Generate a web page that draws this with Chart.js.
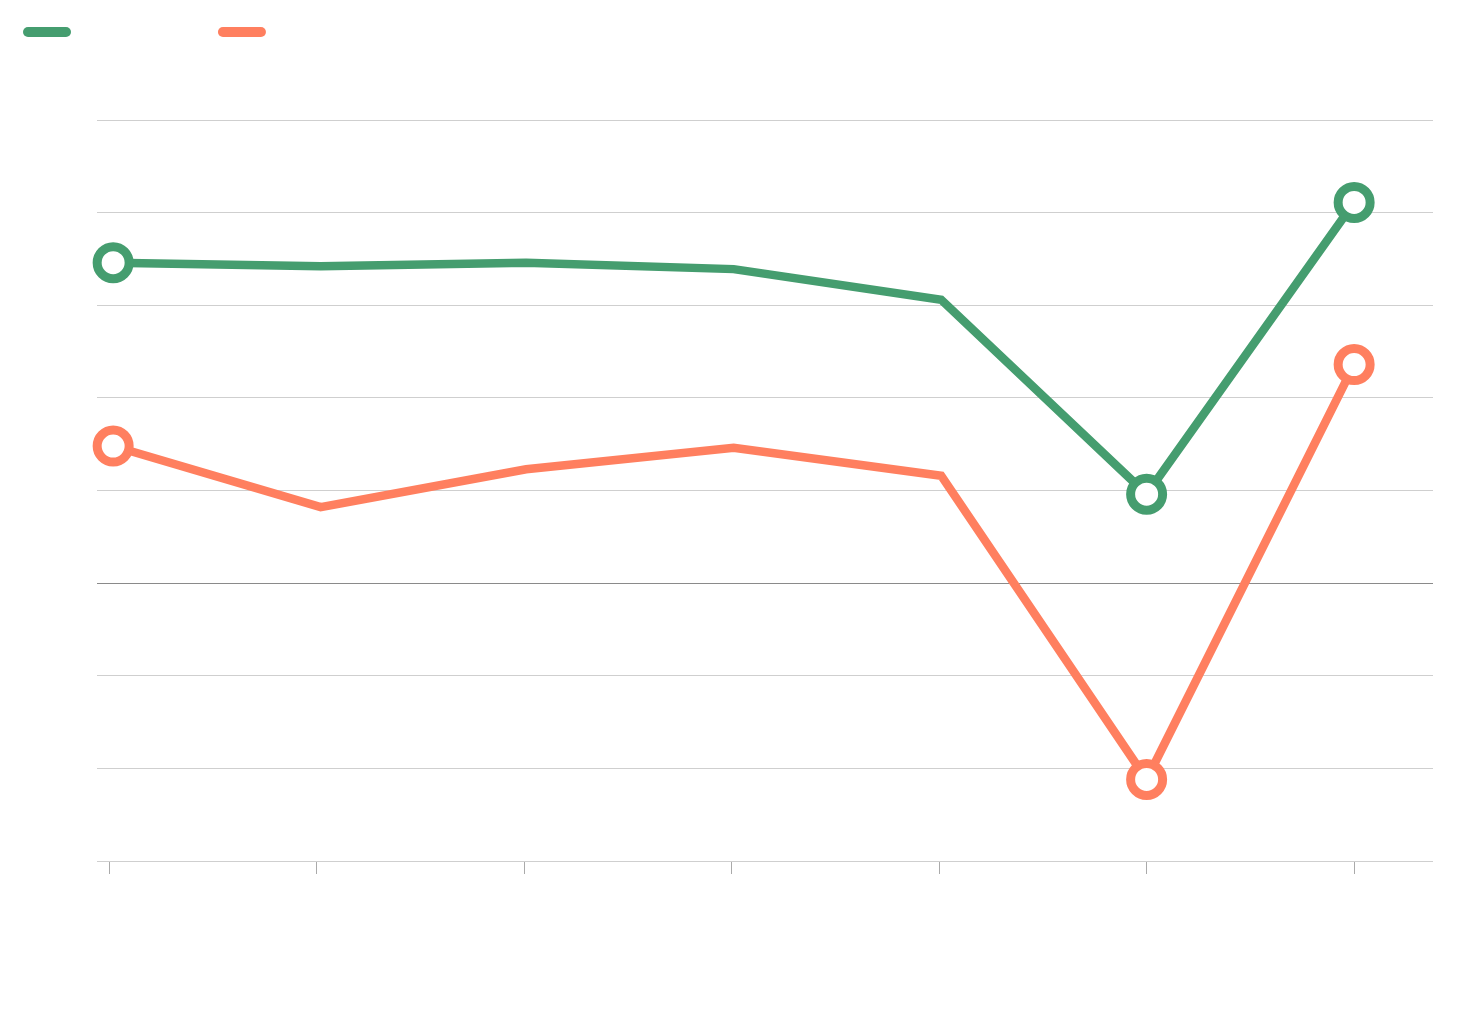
<!DOCTYPE html>
<html>
<head>
<meta charset="utf-8">
<script src="https://cdn.jsdelivr.net/npm/chart.js@4/dist/chart.umd.min.js"></script>
<style>
  html, body { margin: 0; padding: 0; background: #ffffff; }
  #wrap { position: relative; width: 1460px; height: 1018px; }
</style>
</head>
<body>
<div id="wrap"><canvas id="c"></canvas></div>
<script>
// ---- data ----
const seriesNames = ['Series 1', 'Series 2'];
const periods = [0.02, 1.02, 2.01, 3.01, 4.01, 5, 6];
const seriesGreen = [34.6, 34.2, 34.6, 33.9, 30.6, 9.6, 41.1];
const seriesOrange = [14.8, 8.2, 12.3, 14.6, 11.6, -21.2, 23.6];
const yTicks = [-30, -20, -10, 0, 10, 20, 30, 40, 50];
const xTicks = [0, 1, 2, 3, 4, 5, 6];

// ---- styling ----
const GREEN = '#459d6f';
const ORANGE = '#ff7f5f';
const FAMILY = "'Liberation Sans', Arial, sans-serif";

// legend metrics (text is invisible, only spacing matters)
const m = document.createElement('canvas').getContext('2d');
m.font = '100px ' + FAMILY;
const w1 = m.measureText(seriesNames[0]).width / 100;
const legendFont = 147 / (0.5 + w1);
const padTop = 22 - legendFont / 2;
const spacer = 120 - padTop - (legendFont + 20);

const toPoints = vals => vals.map((v, i) => ({ x: periods[i], y: v }));
const marked = i => i === 0 || i >= periods.length - 2;

const ds = (label, vals, color) => ({
  label,
  data: toPoints(vals),
  borderColor: color,
  backgroundColor: color,
  borderWidth: 8.5,
  tension: 0,
  clip: false,
  borderJoinStyle: 'miter',
  pointRadius: c => marked(c.dataIndex) ? 16 : 0,
  pointHoverRadius: c => marked(c.dataIndex) ? 16 : 0,
  pointBorderWidth: 9,
  pointHoverBorderWidth: 9,
  pointBackgroundColor: '#ffffff',
  pointBorderColor: color,
  fill: false
});

new Chart(document.getElementById('c'), {
  type: 'line',
  data: {
    datasets: [
      ds(seriesNames[0], seriesGreen, GREEN),
      ds(seriesNames[1], seriesOrange, ORANGE)
    ]
  },
  options: {
    responsive: true,
    maintainAspectRatio: false,
    animation: false,
    events: [],
    layout: { padding: { left: 18, right: 27, top: padTop, bottom: 144 } },
    plugins: {
      tooltip: { enabled: false },
      legend: {
        display: true,
        position: 'top',
        align: 'start',
        labels: {
          usePointStyle: true,
          pointStyleWidth: 38,
          padding: 10,
          color: 'rgba(0,0,0,0)',
          font: { family: FAMILY, size: legendFont },
          generateLabels: chart => chart.data.datasets.map((d, i) => ({
            text: d.label,
            fillStyle: d.borderColor,
            strokeStyle: d.borderColor,
            lineWidth: 10,
            lineCap: 'round',
            pointStyle: 'line',
            fontColor: 'rgba(0,0,0,0)',
            hidden: !chart.isDatasetVisible(i),
            datasetIndex: i
          }))
        }
      }
    },
    scales: {
      x: {
        type: 'linear',
        position: 'bottom',
        min: xTicks[0],
        max: 6.38,
        afterBuildTicks: s => { s.ticks = xTicks.map(v => ({ value: v })); },
        ticks: { display: false },
        grid: { drawOnChartArea: false, drawTicks: true, tickLength: 13, color: '#aaaaaa', lineWidth: 1 },
        border: { display: false }
      },
      spacer: {
        type: 'linear',
        axis: 'x',
        position: 'top',
        display: true,
        ticks: { display: false },
        grid: { display: false },
        border: { display: false },
        afterFit: s => { s.height = spacer; }
      },
      y: {
        type: 'linear',
        position: 'left',
        min: yTicks[0],
        max: yTicks[yTicks.length - 1],
        afterBuildTicks: s => { s.ticks = yTicks.map(v => ({ value: v })); },
        ticks: { display: false },
        grid: {
          drawTicks: true,
          tickLength: 12,
          color: c => (c.tick && c.tick.value === 0) ? '#8a8a8a' : '#cfcfcf',
          lineWidth: 1
        },
        border: { display: false },
        afterFit: s => { s.width = 91; }
      }
    }
  }
});
</script>
</body>
</html>
